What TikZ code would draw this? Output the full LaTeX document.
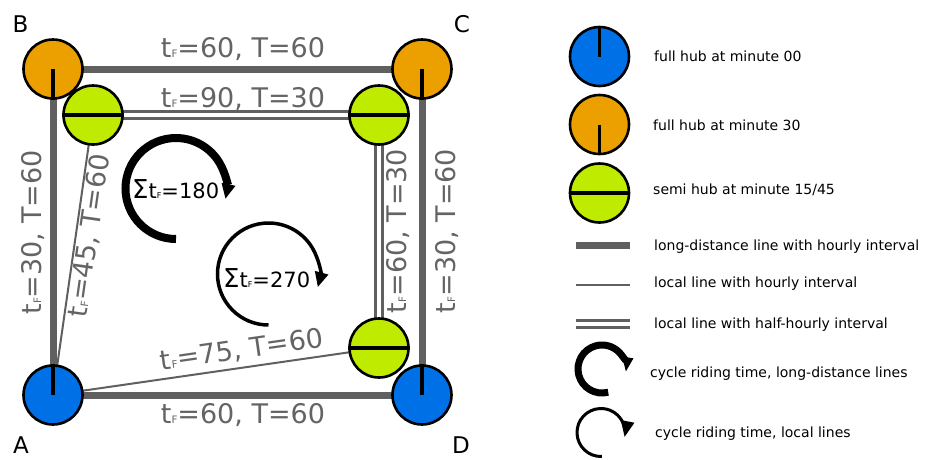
\documentclass[tikz,border=0pt]{standalone}
\usepackage{fontspec}
\setmainfont{DejaVu Sans}
\usepackage{graphicx}
\usetikzlibrary{arrows.meta}
\definecolor{hubblue}{HTML}{0070E6}
\definecolor{huborange}{HTML}{ECA000}
\definecolor{hubgreen}{HTML}{BFEB00}
\definecolor{linegray}{HTML}{606060}
\definecolor{labelgray}{HTML}{646464}
\newcommand\smallF{\scalebox{0.38}{F}}
\tikzset{
  hub/.style={circle, draw=black, line width=2.6pt, minimum size=59pt, inner sep=0pt},
  hubA/.style={hub, fill=hubblue},
  hubB/.style={hub, fill=huborange},
  hubS/.style={hub, fill=hubgreen},
  hubtick/.style={line width=3.5pt, black},
  longline/.style={line width=7pt, draw=linegray},
  localline/.style={line width=2pt, draw=linegray},
  halfline/.style={draw=linegray, line width=2.4pt, double=white, double distance=4.4pt},
  lbl/.style={text=labelgray, font=\fontsize{27}{27}\selectfont, inner sep=0pt, anchor=base},
  corner/.style={text=black, font=\fontsize{23}{23}\selectfont, inner sep=0pt, anchor=base},
  sumlbl/.style={text=black, font=\fontsize{21}{21}\selectfont, inner sep=0pt, anchor=base west},
  legtext/.style={text=black, font=\fontsize{14}{14}\selectfont, inner sep=0pt, anchor=base west},
  bigcycle/.style={line width=8pt, black, -{Triangle[length=15pt,width=13pt]}},
  smallcycle/.style={line width=3.5pt, black, -{Triangle[length=15pt,width=13pt]}},
}
\begin{document}
\begin{tikzpicture}[x=1pt,y=1pt]
\useasboundingbox (0,0) rectangle (927,-459);

% hub positions
\coordinate (A) at (53,-395);
\coordinate (B) at (53,-69);
\coordinate (C) at (422,-69);
\coordinate (D) at (422,-395);
\coordinate (S1) at (93,-115);
\coordinate (S2) at (379,-115);
\coordinate (S3) at (379,-348);

% connectors
\draw[longline] (B) -- (C);
\draw[longline] (B) -- (A);
\draw[longline] (A) -- (D);
\draw[longline] (C) -- (D);
\draw[halfline] (S1) -- (S2);
\draw[halfline] (S2) -- (S3);
\draw[localline] (A) -- (S1);
\draw[localline] (A) -- (S3);

% hubs
\node[hubB] (Bn) at (B) {};
\draw[hubtick] (Bn.center) -- (Bn.south);
\node[hubS] (S1n) at (S1) {};
\draw[hubtick] (S1n.west) -- (S1n.east);
\node[hubS] (S2n) at (S2) {};
\draw[hubtick] (S2n.west) -- (S2n.east);
\node[hubB] (Cn) at (C) {};
\draw[hubtick] (Cn.center) -- (Cn.south);
\node[hubS] (S3n) at (S3) {};
\draw[hubtick] (S3n.west) -- (S3n.east);
\node[hubA] (Dn) at (D) {};
\draw[hubtick] (Dn.center) -- (Dn.north);
\node[hubA] (An) at (A) {};
\draw[hubtick] (An.center) -- (An.north);

% edge labels
\node[lbl] (lBC) at (243,-57) {t\smallF=60, T=60};
\node[lbl] (lS12) at (243,-107) {t\smallF=90, T=30};
\node[lbl] (lAD) at (243,-423) {t\smallF=60, T=60};
\node[lbl, rotate=8.2] (lAS3) at (243,-358.5) {t\smallF=75, T=60};
\node[lbl, rotate=90] (lAB) at (41,-232.5) {t\smallF=30, T=60};
\node[lbl, rotate=81.9] (lAS1) at (98,-237) {t\smallF=45, T=60};
\node[lbl, rotate=90] (lS23) at (406,-231) {t\smallF=60, T=30};
\node[lbl, rotate=90] (lCD) at (455,-231) {t\smallF=30, T=60};

% corner letters
\node[corner] (tB) at (20.5,-32) {B};
\node[corner] (tC) at (462,-32) {C};
\node[corner] (tA) at (21,-453) {A};
\node[corner] (tD) at (461,-453) {D};

% cycles
\coordinate (cyc1) at (176,-188.5);
\draw[bigcycle] ([shift={(270:50.5)}]cyc1) arc[start angle=270, end angle=-12, radius=50.5];
\node[sumlbl] (sum1) at (132,-198) {{\fontsize{26}{26}\selectfont Σ}t\smallF=180};
\coordinate (cyc2) at (268.5,-274);
\draw[smallcycle] ([shift={(270:51)}]cyc2) arc[start angle=270, end angle=-15, radius=51];
\node[sumlbl] (sum2) at (223,-287) {{\fontsize{26}{26}\selectfont Σ}t\smallF=270};

% legend
\node[hubA] (L1) at (599.5,-56.5) {};
\draw[hubtick] (L1.center) -- (L1.north);
\node[hubB] (L2) at (599.5,-124.5) {};
\draw[hubtick] (L2.center) -- (L2.south);
\node[hubS] (L3) at (599.5,-193) {};
\draw[hubtick] (L3.west) -- (L3.east);
\node[legtext] (t1) at (654,-61) {full hub at minute 00};
\node[legtext] (t2) at (653,-130) {full hub at minute 30};
\node[legtext] (t3) at (653,-194) {semi hub at minute 15/45};

\coordinate (l1a) at (576,-245.5); \coordinate (l1b) at (630,-245.5);
\draw[longline] (l1a) -- (l1b);
\coordinate (l2a) at (576,-285); \coordinate (l2b) at (630,-285);
\draw[localline] (l2a) -- (l2b);
\coordinate (l3a) at (576,-324); \coordinate (l3b) at (630,-324);
\draw[halfline] (l3a) -- (l3b);
\node[legtext] (t4) at (654,-250) {long-distance line with hourly interval};
\node[legtext] (t5) at (654,-287) {local line with hourly interval};
\node[legtext] (t6) at (654,-328) {local line with half-hourly interval};

\coordinate (lc1) at (602,-369);
\draw[line width=7pt, black, -{Triangle[length=15pt,width=10pt]}] ([shift={(285:24)}]lc1) arc[start angle=285, end angle=-8, radius=24];
\coordinate (lc2) at (601,-432.5);
\draw[line width=3pt, black, -{Triangle[length=16pt,width=13pt]}] ([shift={(272:24)}]lc2) arc[start angle=272, end angle=-11, radius=24];
\node[legtext] (t7) at (650,-377) {cycle riding time, long-distance lines};
\node[legtext] (t8) at (655,-437) {cycle riding time, local lines};
\end{tikzpicture}
\end{document}
